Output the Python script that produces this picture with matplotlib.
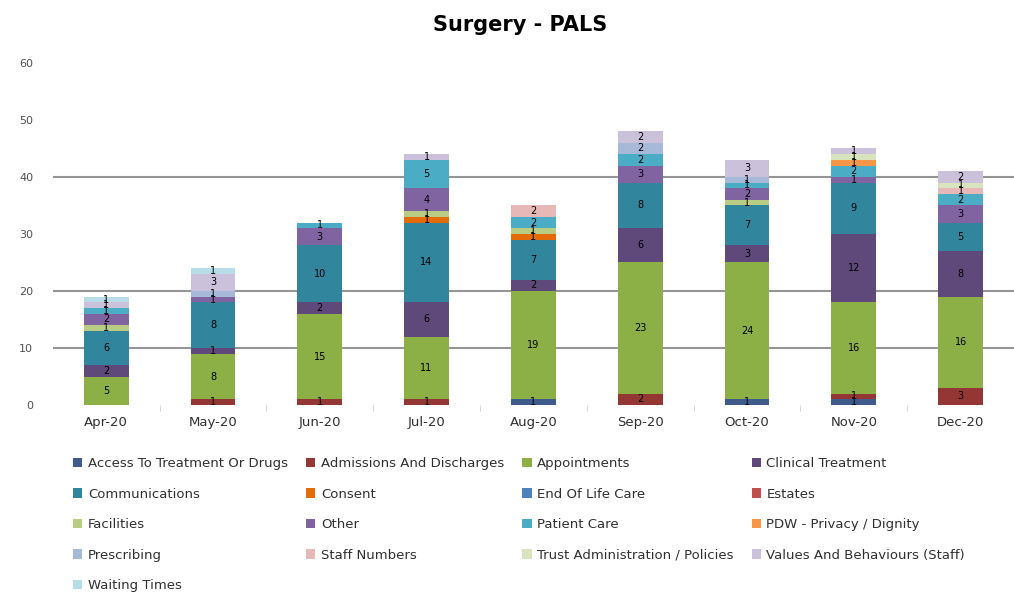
import numpy as np
import matplotlib
matplotlib.use("Agg")
from matplotlib import pyplot as plt

months = ["Apr-20", "May-20", "Jun-20", "Jul-20", "Aug-20", "Sep-20", "Oct-20", "Nov-20", "Dec-20"]

categories = [
    "Access To Treatment Or Drugs", "Admissions And Discharges", "Appointments",
    "Clinical Treatment", "Communications", "Consent", "End Of Life Care", "Estates",
    "Facilities", "Other", "Patient Care", "PDW - Privacy / Dignity", "Prescribing",
    "Staff Numbers", "Trust Administration / Policies", "Values And Behaviours (Staff)",
    "Waiting Times",
]

access = [0, 0, 0, 0, 1, 0, 1, 1, 0]
admissions = [0, 1, 1, 1, 0, 2, 0, 1, 3]
appointments = [5, 8, 15, 11, 19, 23, 24, 16, 16]
clinical = [2, 1, 2, 6, 2, 6, 3, 12, 8]
communications = [6, 8, 10, 14, 7, 8, 7, 9, 5]
consent = [0, 0, 0, 1, 1, 0, 0, 0, 0]
end_of_life = [0, 0, 0, 0, 0, 0, 0, 0, 0]
estates = [0, 0, 0, 0, 0, 0, 0, 0, 0]
facilities = [1, 0, 0, 1, 1, 0, 1, 0, 0]
other = [2, 1, 3, 4, 0, 3, 2, 1, 3]
patient_care = [1, 0, 1, 5, 2, 2, 1, 2, 2]
pdw = [0, 0, 0, 0, 0, 0, 0, 1, 0]
prescribing = [0, 1, 0, 0, 0, 2, 1, 0, 0]
staff_numbers = [0, 0, 0, 0, 2, 0, 0, 0, 1]
trust_admin = [0, 0, 0, 0, 0, 0, 0, 1, 1]
values_behaviours = [1, 3, 0, 1, 0, 2, 3, 1, 2]
waiting_times = [1, 1, 0, 0, 0, 0, 0, 0, 0]

series = [access, admissions, appointments, clinical, communications, consent,
          end_of_life, estates, facilities, other, patient_care, pdw, prescribing,
          staff_numbers, trust_admin, values_behaviours, waiting_times]

colors = ["#3F5B8C", "#943634", "#8CB045", "#5F497A", "#31859C", "#E36C09",
          "#4F81BD", "#C0504D", "#B8CC84", "#8064A2", "#4BACC6", "#F79646",
          "#A6B9D9", "#E6B9B8", "#D7E4BD", "#CCC1DA", "#B7DEE8"]

grid_levels = [10, 20, 40]

fig = plt.figure(figsize=(10.14, 5.93), dpi=100)
ax = fig.add_axes([0.052, 0.317, 0.948, 0.577])

x = np.arange(len(months))
bottom = np.zeros(len(months))
handles = []
for name, vals, col in zip(categories, series, colors):
    vals = np.array(vals, dtype=float)
    bars = ax.bar(x, vals, 0.42, bottom=bottom, color=col, label=name, zorder=3)
    ax.bar_label(bars, labels=[str(int(v)) if v > 0 else "" for v in vals],
                 label_type="center", fontsize=7, color="black", zorder=4)
    handles.append(bars)
    bottom += vals

for lvl in grid_levels:
    ax.axhline(lvl, color="#959595", lw=1.5, zorder=1)

ax.set_xlim(-0.5, len(months) - 0.5)
ax.set_ylim(0, 60)
ax.set_yticks(range(0, 61, 10))
ax.set_xticks(x)
ax.set_xticklabels(months, fontsize=9.5, color="#303030")
ax.set_xticks(x[:-1] + 0.5, minor=True)
ax.tick_params(axis="x", which="major", length=0, pad=8)
ax.tick_params(axis="x", which="minor", length=4, color="#D0D0D0")
ax.tick_params(axis="y", length=0, pad=14, labelsize=8, labelcolor="#505050")
for s in ax.spines.values():
    s.set_visible(False)

fig.suptitle("Surgery - PALS", fontsize=15, fontweight="bold", x=0.513, y=0.975)

# legend rows run across, so reorder into column-major order for matplotlib
ncol = 4
order = [i for c in range(ncol) for i in range(c, len(categories), ncol)]
ax.legend([handles[i] for i in order], [categories[i] for i in order],
          ncol=ncol, loc="upper left", bbox_to_anchor=(0.009, -0.118),
          frameon=False, fontsize=9.5, handlelength=0.7, handleheight=0.7,
          handletextpad=0.4, columnspacing=1.4, labelspacing=1.32,
          labelcolor="#303030")

fig.savefig("out.png", dpi=100)
